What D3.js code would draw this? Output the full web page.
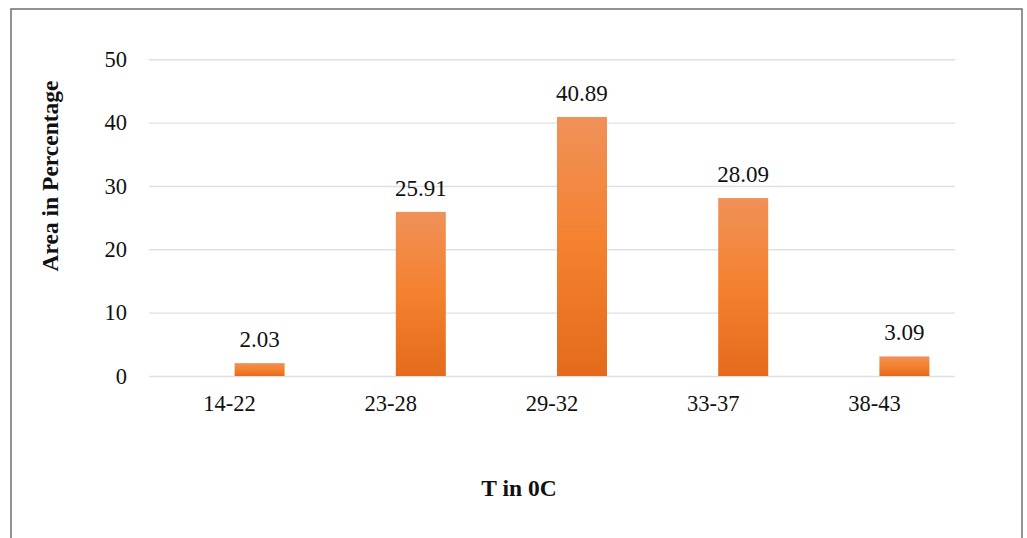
<!DOCTYPE html>
<html>
<head>
<meta charset="utf-8">
<script src="https://cdn.jsdelivr.net/npm/d3@7"></script>
<style>
  html, body { margin: 0; padding: 0; background: #fff; }
  svg { display: block; }
</style>
</head>
<body>
<svg id="chart" width="1027" height="538"></svg>
<script>
const categories = ["14-22", "23-28", "29-32", "33-37", "38-43"];
const values = [2.03, 25.91, 40.89, 28.09, 3.09];
const yTicks = [0, 10, 20, 30, 40, 50];
const yTitle = "Area in Percentage";
const xTitle = "T in 0C";

const W = 1027, H = 538;
const plot = { left: 149, right: 955, top: 59.3, bottom: 376 };
const font = "'Liberation Serif', 'Times New Roman', Times, serif";

const svg = d3.select("#chart");

const defs = svg.append("defs");
const grad = defs.append("linearGradient")
  .attr("id", "barGrad").attr("x1", 0).attr("y1", 0).attr("x2", 0).attr("y2", 1);
grad.append("stop").attr("offset", "0%").attr("stop-color", "#F09159");
grad.append("stop").attr("offset", "50%").attr("stop-color", "#F4812E");
grad.append("stop").attr("offset", "100%").attr("stop-color", "#E46B1C");

// frame
svg.append("rect")
  .attr("x", 11).attr("y", 9).attr("width", 1011).attr("height", 560)
  .attr("fill", "none").attr("stroke", "#6f6f6f").attr("stroke-width", 1.5);

const x0 = d3.scaleBand().domain(categories)
  .range([plot.left, plot.right]).paddingInner(0.3176).paddingOuter(0.3176 / 2);
const x1 = d3.scaleBand().domain(["blank", "area"])
  .range([0, x0.bandwidth()]).paddingInner(0.1667).paddingOuter(0);
const y = d3.scaleLinear().domain([0, 50]).range([plot.bottom, plot.top]);

// gridlines
const yAxis = d3.axisLeft(y).tickValues(yTicks).tickSize(-(plot.right - plot.left)).tickPadding(22);
const gy = svg.append("g").attr("transform", `translate(${plot.left},0)`).call(yAxis);
gy.select(".domain").remove();
gy.selectAll(".tick line").attr("stroke", "#DCE0E8").attr("stroke-width", 1.4);
gy.selectAll(".tick text")
  .attr("font-family", font).attr("font-size", 22.5).attr("fill", "#111");

// x axis labels
const xAxis = d3.axisBottom(x0).tickSize(0).tickPadding(19);
const gx = svg.append("g").attr("transform", `translate(0,${plot.bottom})`).call(xAxis);
gx.select(".domain").remove();
gx.selectAll(".tick text")
  .attr("font-family", font).attr("font-size", 22.5).attr("fill", "#111");

// bars
const groups = svg.append("g").selectAll("g").data(categories).join("g")
  .attr("transform", d => `translate(${x0(d)},0)`);
groups.append("rect")
  .attr("x", x1("area"))
  .attr("width", x1.bandwidth())
  .attr("y", (d, i) => y(values[i]))
  .attr("height", (d, i) => y(0) - y(values[i]))
  .attr("fill", "url(#barGrad)");
groups.append("text")
  .attr("x", x1("area") + x1.bandwidth() / 2)
  .attr("y", (d, i) => y(values[i]) - 16)
  .attr("text-anchor", "middle")
  .attr("font-family", font).attr("font-size", 23).attr("fill", "#111")
  .text((d, i) => values[i].toFixed(2));

// axis titles
svg.append("text")
  .attr("transform", `translate(58,176) rotate(-90)`)
  .attr("text-anchor", "middle")
  .attr("font-family", font).attr("font-size", 23.5).attr("font-weight", "bold").attr("fill", "#111")
  .text(yTitle);
svg.append("text")
  .attr("x", 519).attr("y", 496)
  .attr("text-anchor", "middle")
  .attr("font-family", font).attr("font-size", 23.5).attr("font-weight", "bold").attr("fill", "#111")
  .text(xTitle);
</script>
</body>
</html>
